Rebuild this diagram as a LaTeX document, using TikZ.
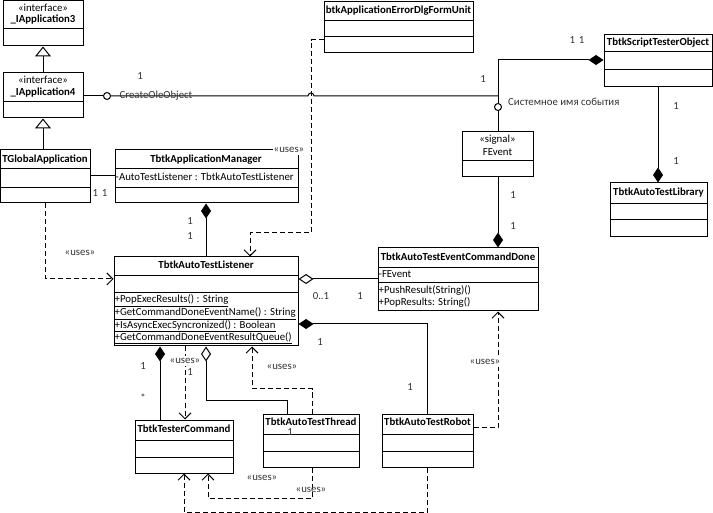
\documentclass[tikz,border=0pt]{standalone}
\usepackage{fontspec}
\setmainfont{Carlito}
\usetikzlibrary{arrows.meta,fit}
\tikzset{
  cls/.style={draw, line width=1pt, inner sep=0pt, fill=white},
  divline/.style={line width=1pt},
  ttl/.style={font=\fontsize{10.8}{12}\bfseries, inner sep=0pt, text height=7.3pt, text depth=2.2pt},
  txt/.style={font=\fontsize{10.8}{12}\selectfont, inner sep=0pt, text height=7.3pt, text depth=2.2pt},
  lbl/.style={font=\fontsize{10.8}{12}\selectfont, inner sep=0pt, text=black!80, text height=7.3pt, text depth=2.2pt},
  conn/.style={line width=1pt},
  dep/.style={line width=1pt, dash pattern=on 5pt off 3pt, arrows={-Straight Barb[length=6pt,width=12pt]}},
  inh/.style={line width=1pt, arrows={-Triangle[open,length=10pt,width=16pt,fill=white]}},
  comp/.style={line width=1pt, arrows={Diamond[length=15pt,width=10pt]-}},
  aggr/.style={line width=1pt, arrows={Diamond[open,length=15pt,width=10pt,fill=white]-}},
  lolli/.style={circle, draw, line width=1pt, minimum size=7pt, inner sep=0pt, fill=white},
}
\newcommand\umlcls[5]{%
  \coordinate (#1-nw) at (#2,#3);
  \coordinate (#1-se) at (#4,#5);
  \node[cls, fit=(#1-nw)(#1-se)] (#1) {};}
\newcommand\hdiv[2]{\draw[divline] (#1.west |- 0,#2) -- (#1.east |- 0,#2);}
\begin{document}
\begin{tikzpicture}[x=1pt,y=-1pt]
\useasboundingbox[fill=white] (0,0) rectangle (713,513);

% ---------- classes ----------
\umlcls{ia3}{3}{1}{83}{46}
\hdiv{ia3}{29}
\node[txt] (ia3s) at (43,9) {«interface»};
\node[ttl] (ia3t) at (43,20) {\_IApplication3};

\umlcls{ia4}{3}{73}{83}{118}
\hdiv{ia4}{102}
\node[txt] (ia4s) at (43,81) {«interface»};
\node[ttl] (ia4t) at (43,93) {\_IApplication4};

\umlcls{tga}{0.5}{150}{90}{203}
\hdiv{tga}{169}
\hdiv{tga}{188}
\node[ttl] (tgat) at (45,160) {TGlobalApplication};

\umlcls{mgr}{115}{150}{298}{203}
\hdiv{mgr}{169}
\hdiv{mgr}{188}
\node[ttl] (mgrt) at (206,160) {TbtkApplicationManager};
\node[txt, anchor=west] (mgra) at (115.5,178) {-AutoTestListener : TbtkAutoTestListener};

\umlcls{err}{324}{2}{473}{53}
\hdiv{err}{21}
\hdiv{err}{37}
\node[ttl] (errt) at (398.5,11) {btkApplicationErrorDlgFormUnit};

\umlcls{sto}{604}{35}{712}{87}
\hdiv{sto}{52}
\hdiv{sto}{70}
\node[ttl] (stot) at (658,43) {TbtkScriptTesterObject};

\umlcls{lib}{610}{183}{707}{237}
\hdiv{lib}{204}
\hdiv{lib}{220}
\node[ttl] (libt) at (658.5,193) {TbtkAutoTestLibrary};

\umlcls{fev}{462}{132}{533}{177}
\hdiv{fev}{161}
\node[txt] (fevs) at (497.5,140) {«signal»};
\node[txt] (fevt) at (497.5,153) {FEvent};

\umlcls{done}{378}{248}{538}{311}
\hdiv{done}{268}
\hdiv{done}{283}
\node[ttl] (donet) at (458,258) {TbtkAutoTestEventCommandDone};
\node[txt, anchor=west] (donea) at (378.5,275) {-FEvent};
\node[txt, anchor=west] (donem1) at (378.5,291) {+PushResult(String)()};
\node[txt, anchor=west] (donem2) at (378.5,303) {+PopResults: String()};

\umlcls{lst}{114}{257}{298}{346}
\hdiv{lst}{276}
\hdiv{lst}{293}
\node[ttl] (lstt) at (206,266) {TbtkAutoTestListener};
\node[txt, anchor=west] (lstm1) at (114.5,300) {\underline{+PopExecResults() : String}};
\node[txt, anchor=west] (lstm2) at (114.5,313) {\underline{+GetCommandDoneEventName() : String}};
\node[txt, anchor=west] (lstm3) at (114.5,326) {\underline{+IsAsyncExecSyncronized() : Boolean}};
\node[txt, anchor=west] (lstm4) at (114.5,338) {\underline{+GetCommandDoneEventResultQueue()}};

\umlcls{cmd}{135}{420}{233}{473}
\hdiv{cmd}{440}
\hdiv{cmd}{457}
\node[ttl] (cmdt) at (184,430) {TbtkTesterCommand};

\umlcls{thr}{263}{414}{359}{467}
\hdiv{thr}{434}
\hdiv{thr}{451}
\node[ttl] (thrt) at (311,423) {TbtkAutoTestThread};

\umlcls{rob}{382}{414}{473}{467}
\hdiv{rob}{434}
\hdiv{rob}{451}
\node[ttl] (robt) at (427.5,423) {TbtkAutoTestRobot};

% ---------- generalisations ----------
\draw[inh] (ia4.north) -- (ia3.south);
\draw[inh] (tga.north -| ia4.south) -- (ia4.south);

% ---------- associations ----------
\draw[conn] (tga.east |- 0,176) -- (mgr.west |- 0,176);
\node[lbl] (l11) at (100,194) {1\,\,1};

\draw[comp] (mgr.south -| 206,0) -- (lst.north -| 206,0);
\node[lbl] (lm1) at (190,222) {1};
\node[lbl] (lm2) at (190,237) {1};

% CreateOleObject lollipop line
\coordinate (j) at (498,96);
\node[lolli] (ole) at (107,96) {};
\draw[conn] (ia4.east |- 0,96) -- (ole.west);
\draw[conn] (ole.east) -- (308,96) arc (180:360:3) -- (j);
\node[lbl] (olet) at (156,96) {CreateOleObject};
\node[lbl] (ole1) at (140,77) {1};

\draw[comp] (sto.west |- 0,60) -| (j);
\node[lbl] (st11) at (577,41) {1\,\,1};
\node[lbl] (j1) at (483,80) {1};

\node[lolli] (sev) at (498,107) {};
\draw[conn] (j) -- (sev.north);
\draw[conn] (sev.south) -- (fev.north -| sev.south);
\node[lbl, anchor=west] (sevt) at (508,103) {Системное имя события};

\draw[comp] (done.north -| 498,0) -- (fev.south -| 498,0);
\node[lbl] (fd1) at (513,196) {1};
\node[lbl] (fd2) at (513,227) {1};

\draw[comp] (lib.north -| 658,0) -- (sto.south -| 658,0);
\node[lbl] (sl1) at (676,107) {1};
\node[lbl] (sl2) at (676,162) {1};

\draw[aggr] (lst.east |- 0,279) -- (done.west |- 0,279);
\node[lbl] (ld1) at (321,297) {0..1};
\node[lbl] (ld2) at (360,297) {1};

\draw[comp] (lst.east |- 0,324) -| (rob.north -| 427,0);
\node[lbl] (lr1) at (320,343) {1};
\node[lbl] (lr2) at (410,388) {1};

\draw[comp] (lst.south -| 160,0) -- (cmd.north -| 160,0);
\node[lbl] (lc1) at (143,367) {1};
\node[lbl] (lc2) at (143,399) {*};

\draw[aggr] (lst.south -| 206,0) |- (287,400) -- (thr.north -| 287,0);
\node[lbl] (lt1) at (290,433) {1};

% ---------- dependencies ----------
\draw[dep] (err.west |- 0,40) -- (311,40) -- (311,233) -- (250,233) -- (lst.north -| 250,0);
\node[lbl, fill=white, inner xsep=1pt] (u1) at (289,150) {«uses»};

\draw[dep] (tga.south -| 45,0) |- (lst.west |- 0,279);
\node[lbl] (u2) at (80,253) {«uses»};

\draw[dep] (lst.south -| 185,0) -- (cmd.north -| 185,0);
\node[lbl, fill=white] (u3) at (185,361) {«uses»};
\node[lbl] (u3a) at (190,373) {1};

\draw[dep] (thr.north -| 312,0) |- (252,389) -- (lst.south -| 252,0);
\node[lbl] (u4) at (282,367) {«uses»};

\draw[dep] (rob.east |- 0,427) -| (done.south -| 498,0);
\node[lbl, fill=white] (u5) at (485,362) {«uses»};

\draw[dep] (thr.south -| 312,0) |- (208,498) -- (cmd.south -| 208,0);
\node[lbl] (u6) at (262,478) {«uses»};
\node[lbl] (u7) at (311,490) {«uses»};

\draw[dep] (rob.south -| 427,0) |- (184,512) -- (cmd.south -| 184,0);
\end{tikzpicture}
\end{document}
